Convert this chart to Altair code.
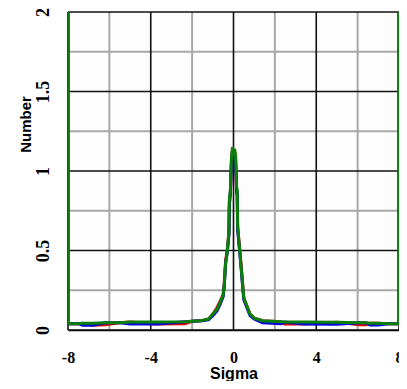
import altair as alt
import pandas as pd

# ---- data ----
sigma = [-8, -8, -7.5, -7.3, -6.8, -6.2, -5.5, -5.0, -3.7, -2.35, -2.0, -1.5, -1.2, -1.0,
         -0.8, -0.65, -0.5, -0.45, -0.38, -0.3, -0.22, -0.2, -0.15, -0.1, -0.05, 0.0,
         0.05, 0.1, 0.15, 0.18, 0.2, 0.3, 0.38, 0.45, 0.5, 0.65, 0.8, 1.0, 1.4, 2.3,
         2.45, 3.4, 5.0, 6.1, 6.4, 6.6, 7.0, 7.5, 8, 8]
green = [2.2, 0.04, 0.04, 0.042, 0.042, 0.045, 0.045, 0.05, 0.05, 0.052, 0.055, 0.06, 0.07, 0.1,
         0.13, 0.17, 0.22, 0.28, 0.42, 0.5, 0.62, 0.82, 0.88, 1.08, 1.15, 1.12,
         1.14, 1.1, 0.9, 0.88, 0.65, 0.5, 0.38, 0.27, 0.2, 0.15, 0.1, 0.075, 0.058, 0.052,
         0.05, 0.05, 0.048, 0.045, 0.045, 0.043, 0.042, 0.04, 0.04, 2.2]
red = [2.2, 0.04, 0.04, 0.042, 0.03, 0.033, 0.045, 0.05, 0.038, 0.04, 0.055, 0.06, 0.07, 0.1,
       0.14, 0.18, 0.22, 0.29, 0.44, 0.5, 0.62, 0.78, 0.86, 1.06, 1.13, 1.1,
       1.12, 1.08, 0.86, 0.85, 0.65, 0.51, 0.39, 0.28, 0.2, 0.15, 0.1, 0.075, 0.058, 0.052,
       0.038, 0.038, 0.048, 0.033, 0.033, 0.043, 0.042, 0.04, 0.04, 2.2]
blue = [2.2, 0.04, 0.04, 0.03, 0.03, 0.045, 0.045, 0.038, 0.038, 0.052, 0.055, 0.058, 0.065, 0.09,
        0.12, 0.16, 0.21, 0.27, 0.42, 0.49, 0.6, 0.8, 0.87, 1.05, 1.12, 1.1,
        1.11, 1.06, 0.88, 0.86, 0.63, 0.49, 0.37, 0.26, 0.19, 0.14, 0.09, 0.07, 0.046, 0.04,
        0.05, 0.038, 0.036, 0.045, 0.045, 0.031, 0.031, 0.04, 0.04, 2.2]

x_ticks = [-8, -4, 0, 4, 8]
y_ticks = [0, 0.5, 1, 1.5, 2]
minor_x = [-6, -2, 2, 6]
minor_y = [0.25, 0.75, 1.25, 1.75]

def series_df(vals):
    return pd.DataFrame({"sigma": sigma, "number": vals, "idx": list(range(len(sigma)))})

xscale = alt.Scale(domain=[-8, 8], nice=False, zero=False)
yscale = alt.Scale(domain=[0, 2], nice=False, zero=False)

xaxis = alt.Axis(values=x_ticks, title="Sigma", grid=False, ticks=False,
                 domainColor="black", domainWidth=1.5,
                 labelExpr="datum.value < 0 ? '-' + (-datum.value) : '' + datum.value",
                 labelFont="Liberation Serif", labelFontWeight="bold", labelFontSize=16,
                 labelColor="black", labelPadding=19, labelFlush=False, labelOverlap=False,
                 titleFont="Liberation Sans", titleFontWeight="bold", titleFontSize=16,
                 titleColor="black", titleY=48, titleBaseline="alphabetic")
yaxis = alt.Axis(values=y_ticks, title="Number", grid=False, ticks=False, domain=False,
                 labelExpr="'' + datum.value",
                 labelFont="Liberation Serif", labelFontWeight="bold", labelFontSize=18,
                 labelColor="black", labelPadding=16, labelAngle=270, labelAlign="center",
                 labelBaseline="bottom", labelFlush=False, labelOverlap=False,
                 titleFont="Liberation Sans", titleFontWeight="bold", titleFontSize=15,
                 titleColor="black", titleAngle=270, titleAlign="center",
                 titleBaseline="middle", titleX=-43, titleY=112)

X = alt.X("sigma:Q", scale=xscale, axis=xaxis)
Y = alt.Y("number:Q", scale=yscale, axis=yaxis)

minor_v = alt.Chart(pd.DataFrame({"sigma": minor_x})).mark_rule(
    color="#a8a8a8", strokeWidth=2).encode(x=X)
minor_h = alt.Chart(pd.DataFrame({"number": minor_y})).mark_rule(
    color="#a8a8a8", strokeWidth=2).encode(y=Y)
major_v = alt.Chart(pd.DataFrame({"sigma": x_ticks})).mark_rule(
    color="#111111", strokeWidth=1.6).encode(x=X)
major_h = alt.Chart(pd.DataFrame({"number": y_ticks})).mark_rule(
    color="#111111", strokeWidth=1.6).encode(y=Y)

def line(vals, color):
    return alt.Chart(series_df(vals)).mark_line(
        color=color, strokeWidth=3, clip=True, interpolate="linear").encode(
        x=X, y=Y, order="idx:Q")

chart = alt.layer(
    minor_v, minor_h, major_v, major_h,
    line(red, "#e00000"), line(blue, "#0000e0"), line(green, "#0a800a"),
).properties(
    width=331, height=318, autosize="none",
    padding={"left": 60, "top": 4, "right": 0, "bottom": 51},
).configure_view(stroke=None, fill="#fdfdfd")

chart.save("out.html", embed_options={"renderer": "svg", "actions": False})
